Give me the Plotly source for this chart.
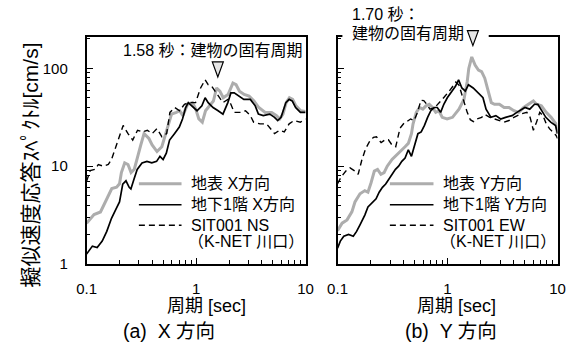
import plotly.graph_objects as go

# ---------------- data: pseudo-velocity response spectra (h = 5%) ----------------
# (a) X direction
x_surface_T = [0.100, 0.117, 0.134, 0.144, 0.153, 0.170, 0.188, 0.200, 0.208, 0.223, 0.239, 0.255, 0.273, 0.292,
               0.313, 0.335, 0.371, 0.397, 0.440, 0.487, 0.539, 0.597, 0.661, 0.708, 0.757, 0.838, 0.927, 0.993,
               1.06, 1.14, 1.22, 1.35, 1.44, 1.54, 1.65, 1.77, 1.96, 2.17, 2.32, 2.49, 2.75, 3.05, 3.38, 3.74,
               4.28, 4.90, 5.43, 5.81, 6.22, 6.65, 7.12, 7.62, 8.16, 9.03, 10.0]
x_surface_V = [2.6, 3.2, 3.4, 4.0, 4.6, 5.9, 6.1, 6.6, 8.6, 10.8, 10.4, 8.6, 9.3, 12.6,
               16.5, 21.5, 19.2, 16.5, 14.1, 15.8, 23.3, 34.1, 35.5, 36.9, 32.9, 43.0, 44.7, 38.3,
               30.4, 28.2, 36.9, 43.0, 46.4, 63.1, 58.5, 50.1, 54.1, 70.8, 68.1, 58.5, 54.1, 52.1, 46.4, 39.8,
               35.5, 35.5, 32.9, 30.4, 34.1, 44.7, 50.1, 48.2, 41.4, 36.9, 36.3]

x_b1_T = [0.100, 0.113, 0.125, 0.139, 0.153, 0.169, 0.187, 0.200, 0.214, 0.229, 0.245, 0.254, 0.271, 0.290,
          0.321, 0.356, 0.394, 0.436, 0.468, 0.500, 0.535, 0.573, 0.635, 0.703, 0.752, 0.804, 0.849, 0.922,
          0.987, 1.02, 1.13, 1.21, 1.29, 1.43, 1.59, 1.76, 1.95, 2.08, 2.23, 2.47, 2.73, 3.13, 3.47, 3.71,
          4.11, 4.71, 5.21, 5.57, 5.97, 6.61, 7.08, 7.57, 8.11, 8.97, 10.0]
x_b1_V = [1.26, 1.52, 1.47, 1.71, 2.15, 2.93, 3.69, 4.30, 6.56, 7.08, 6.07, 5.85, 7.36, 9.27,
          10.8, 11.2, 10.8, 11.2, 12.6, 11.7, 13.6, 18.5, 21.5, 25.1, 30.4, 39.8, 44.7, 41.4,
          38.3, 36.9, 41.4, 50.1, 44.7, 39.8, 36.9, 34.1, 44.7, 56.2, 56.2, 52.1, 48.2, 48.2, 41.4, 34.1,
          32.9, 34.1, 31.6, 29.3, 31.6, 44.7, 48.2, 46.4, 39.8, 35.5, 35.5]

x_knet_T = [0.100, 0.108, 0.120, 0.128, 0.142, 0.158, 0.169, 0.182, 0.195, 0.216, 0.239, 0.264, 0.292, 0.324,
            0.359, 0.397, 0.440, 0.487, 0.539, 0.577, 0.639, 0.708, 0.783, 0.867, 0.990, 1.10, 1.21, 1.29,
            1.39, 1.49, 1.59, 1.76, 1.95, 2.08, 2.23, 2.55, 2.83, 3.13, 3.35, 3.84, 4.40, 4.87, 5.21, 5.77,
            6.39, 7.08, 7.83, 8.97, 10.0]
x_knet_V = [7.0, 9.0, 9.3, 10.4, 10.0, 10.4, 11.7, 14.7, 18.5, 26.1, 21.5, 18.5, 23.3, 22.4,
            23.3, 21.5, 24.2, 20.0, 21.5, 35.5, 39.8, 36.9, 43.0, 44.7, 44.7, 63.1, 76.4, 68.1,
            65.6, 58.5, 52.1, 44.7, 48.2, 43.0, 35.5, 35.5, 36.9, 32.9, 28.2, 27.1, 27.1, 23.3, 21.5, 23.3,
            22.4, 27.1, 29.3, 28.2, 30.4]

# (b) Y direction
y_surface_T = [0.100, 0.110, 0.122, 0.135, 0.144, 0.160, 0.177, 0.189, 0.202, 0.216, 0.231, 0.248, 0.265, 0.283,
               0.313, 0.336, 0.359, 0.384, 0.411, 0.440, 0.470, 0.486, 0.520, 0.557, 0.596, 0.637, 0.682, 0.730,
               0.781, 0.836, 0.895, 0.991, 1.11, 1.27, 1.41, 1.51, 1.56, 1.66, 1.78, 1.91, 2.04, 2.18, 2.33,
               2.50, 2.67, 2.96, 3.27, 3.62, 4.01, 4.44, 4.92, 5.44, 6.03, 6.44, 7.13, 7.89, 8.74, 9.67, 10.0]
y_surface_V = [2.19, 2.61, 2.82, 3.41, 4.30, 5.21, 5.62, 5.41, 6.81, 8.91, 9.27, 8.26, 8.57, 10.0,
               11.7, 12.6, 13.6, 14.7, 15.8, 17.1, 21.5, 27.1, 35.5, 39.8, 38.3, 41.4, 43.0, 39.8,
               35.5, 36.9, 31.6, 30.4, 31.6, 38.3, 48.2, 73.6, 100.0, 131.0, 108.0, 96.2, 92.7, 79.4, 58.5,
               44.7, 43.0, 43.0, 39.8, 39.8, 36.9, 35.5, 39.8, 43.0, 46.4, 43.0, 41.4, 35.5, 31.6, 27.1, 21.5]

y_b1_T = [0.100, 0.106, 0.114, 0.126, 0.139, 0.149, 0.160, 0.177, 0.189, 0.202, 0.224, 0.239, 0.256, 0.274,
          0.293, 0.313, 0.336, 0.359, 0.384, 0.411, 0.440, 0.470, 0.503, 0.538, 0.576, 0.617, 0.659, 0.705,
          0.755, 0.807, 0.865, 0.925, 0.995, 1.10, 1.18, 1.26, 1.35, 1.45, 1.55, 1.71, 1.90, 2.10, 2.24,
          2.48, 2.75, 3.04, 3.37, 3.86, 4.27, 4.72, 5.05, 5.59, 6.18, 6.62, 7.08, 7.83, 8.67, 9.60, 10.0]
y_b1_V = [1.45, 1.71, 1.92, 2.0, 1.92, 2.15, 2.51, 3.16, 3.83, 4.14, 4.64, 5.41, 6.07, 6.56,
          7.36, 8.26, 9.27, 10.0, 11.2, 12.1, 14.7, 12.6, 16.5, 21.5, 22.4, 26.1, 31.6, 36.9,
          39.8, 39.8, 35.5, 43.0, 50.1, 58.5, 65.6, 76.4, 63.1, 58.5, 68.1, 63.1, 56.2, 50.1, 38.3,
          31.6, 32.9, 30.4, 31.6, 32.9, 35.5, 38.3, 39.8, 38.3, 43.0, 43.0, 38.3, 31.6, 28.2, 26.1, 21.5]

y_knet_T = [0.100, 0.108, 0.119, 0.130, 0.144, 0.154, 0.166, 0.180, 0.195, 0.212, 0.226, 0.249, 0.270, 0.290,
            0.311, 0.338, 0.370, 0.402, 0.431, 0.462, 0.496, 0.533, 0.573, 0.608, 0.647, 0.692, 0.766, 0.848,
            0.938, 1.04, 1.12, 1.19, 1.27, 1.36, 1.46, 1.51, 1.61, 1.72, 1.85, 2.04, 2.18, 2.42, 2.67,
            2.96, 3.27, 3.62, 4.01, 4.60, 5.26, 5.63, 6.03, 6.44, 6.90, 7.38, 7.89, 8.45, 9.04, 9.67, 10.0]
y_knet_V = [6.61, 7.76, 8.91, 9.62, 8.91, 8.26, 11.5, 15.1, 17.8, 19.7, 20.0, 17.4, 18.6, 18.6,
            16.6, 15.8, 24.5, 27.5, 28.8, 30.4, 29.3, 35.5, 47.3, 46.8, 43.0, 38.3, 39.8, 44.7,
            51.3, 58.9, 66.1, 72.4, 67.6, 52.1, 42.2, 35.5, 29.9, 28.5, 30.4, 31.6, 33.9, 31.6, 30.4,
            29.3, 28.2, 29.3, 31.6, 34.1, 35.5, 31.6, 23.3, 28.2, 35.5, 32.9, 27.1, 24.2, 22.4, 20.7, 19.2]

# natural periods of the building [s]
natural_period_x = 1.58
natural_period_y = 1.70

legend_x = ["地表 X方向", "地下1階 X方向", "SIT001 NS", "（K-NET 川口）"]
legend_y = ["地表 Y方向", "地下1階 Y方向", "SIT001 EW", "（K-NET 川口）"]
x_tick_vals = [0.1, 1, 10]
x_tick_text = ["0.1", "1", "10"]
y_tick_vals = [1, 10, 100]
y_tick_text = ["1", "10", "100"]

# ---------------- layout helpers ----------------
W, H = 582, 354


def fx(px):
    return px / W


def fy(py):
    return (H - py) / H


LATIN = "Liberation Sans, Arial, Noto Sans CJK JP, sans-serif"
GRAY = "#adadad"
line_styles = [
    dict(color=GRAY, width=3.0),
    dict(color="black", width=1.7),
    dict(color="black", width=1.4, dash="6px,4px"),
]

fig = go.Figure()

panels = [
    ("x", "y", [(x_surface_T, x_surface_V), (x_b1_T, x_b1_V), (x_knet_T, x_knet_V)], legend_x),
    ("x2", "y2", [(y_surface_T, y_surface_V), (y_b1_T, y_b1_V), (y_knet_T, y_knet_V)], legend_y),
]
for xa, ya, series, names in panels:
    for (T, V), st, name in zip(series, line_styles, names):
        fig.add_trace(go.Scatter(x=T, y=V, mode="lines", line=st, name=name,
                                 xaxis=xa, yaxis=ya, showlegend=False, hoverinfo="skip"))

minor_x = [v * m for m in (0.1, 1) for v in range(2, 10)]
minor_y = [v * m for m in (1, 10) for v in range(2, 10)] + [200]

axis_common = dict(showline=True, linecolor="black", linewidth=1.5, mirror=True, showgrid=False,
                   zeroline=False, ticks="inside", tickcolor="black", tickwidth=1,
                   tickfont=dict(family=LATIN, size=15, color="black"))

xaxis = dict(axis_common, type="log", range=[-1, 1], tickmode="array", tickvals=x_tick_vals,
             ticktext=x_tick_text, ticklen=6, ticklabelstandoff=10,
             minor=dict(ticks="inside", ticklen=4, tickcolor="black", tickmode="array", tickvals=minor_x))
yaxis = dict(axis_common, type="log", range=[0, 2.32], tickmode="array", tickvals=y_tick_vals,
             ticktext=y_tick_text, ticklen=7, ticklabelstandoff=14,
             minor=dict(ticks="inside", ticklen=4, tickcolor="black", tickmode="array", tickvals=minor_y))

fig.update_layout(
    width=W, height=H, margin=dict(l=0, r=0, t=0, b=0),
    paper_bgcolor="white", plot_bgcolor="white",
    font=dict(family=LATIN, color="black"),
    xaxis=dict(xaxis, domain=[fx(79), fx(305)], anchor="y"),
    yaxis=dict(yaxis, domain=[fy(270), fy(38)], anchor="x"),
    xaxis2=dict(xaxis, domain=[fx(338), fx(565)], anchor="y2"),
    yaxis2=dict(yaxis, domain=[fy(270), fy(38)], anchor="x2", showticklabels=False),
)


def label(px, py, text, size, xanchor="left", **kw):
    fig.add_annotation(x=fx(px), y=fy(py), xref="paper", yref="paper", text=text, showarrow=False,
                       xanchor=xanchor, yanchor="middle", font=dict(size=size, color="black"), **kw)


# ---------------- hand-drawn legends ----------------
legend_rows = [188, 209.5, 230.5]
legend_geom = [(133, 177, 185), (392, 437, 445)]
for (x0, x1, tx), names in zip(legend_geom, [legend_x, legend_y]):
    for row_y, st, name in zip(legend_rows, line_styles, names[:3]):
        fig.add_shape(type="line", xref="paper", yref="paper", x0=fx(x0), x1=fx(x1),
                      y0=fy(row_y), y1=fy(row_y), line=st, layer="above")
        label(tx, row_y, name, 16)
    label(tx - 3, 247, names[3], 16)

# ---------------- natural period markers ----------------
# white patch breaking the top frame of panel (b) behind its label
fig.add_shape(type="rect", xref="paper", yref="paper", x0=fx(343), x1=fx(494), y0=fy(44), y1=fy(30),
              fillcolor="white", line=dict(width=0), layer="above")
tri = "M-5.5,7.5 L5.5,7.5 L0,-7.5 Z"
for xr, period, yc in [("x", natural_period_x, 71), ("x2", natural_period_y, 39)]:
    fig.add_shape(type="path", xref=xr, yref="paper", xsizemode="pixel", ysizemode="pixel",
                  xanchor=period, yanchor=fy(yc), path=tri, fillcolor="#e6e6e6",
                  line=dict(color="black", width=1.2), layer="above")

label(115, 52, f"{natural_period_x:.2f} 秒：建物の固有周期", 16)
label(351, 15, f"{natural_period_y:.2f} 秒：", 16)
label(351, 34, "建物の固有周期", 16)

# ---------------- axis titles and captions ----------------
label(21, 169, "擬似速度応答ｽﾍﾟｸﾄﾙ[cm/s]", 21, xanchor="center", textangle=-90)
for cx, cap_x, cap in [(202.5, 164.5, "(a)\u00a0\u00a0X 方向"), (461, 455.5, "(b)\u00a0\u00a0Y 方向")]:
    label(cx, 313, "周期 [sec]", 18, xanchor="center")
    label(cap_x, 338.5, cap, 19.5, xanchor="center")

fig.write_html("out.html")
